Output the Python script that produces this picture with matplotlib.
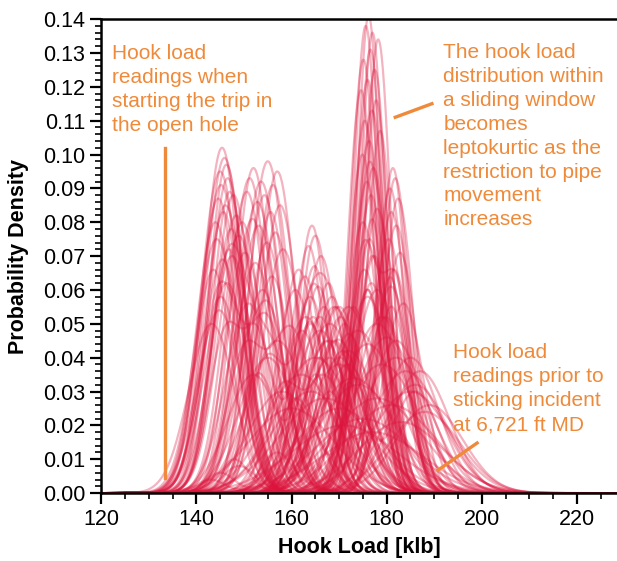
import numpy as np
import matplotlib
matplotlib.use('Agg')
import matplotlib.pyplot as plt
from matplotlib.ticker import MultipleLocator, FormatStrFormatter

plt.rcParams['font.family'] = ['Liberation Sans', 'DejaVu Sans']

# sliding-window hook load densities
# each entry: peak location [klb], peak density, spread [klb]
a_center = [145.4, 145.9, 146.3, 145.0, 146.6, 145.2, 147.0, 144.6, 146.1, 145.7, 144.0, 147.3, 144.3, 146.9, 145.5, 143.6,
            146.4, 145.1, 147.8, 148.4, 144.8, 148.9, 147.5, 143.2]
a_height = [0.102, 0.099, 0.097, 0.095, 0.093, 0.091, 0.089, 0.087, 0.085, 0.083, 0.080, 0.078, 0.075, 0.072, 0.069, 0.066,
            0.062, 0.058, 0.088, 0.082, 0.054, 0.076, 0.070, 0.050]
a_sigma = [3.8, 4.0, 3.7, 4.1, 3.8, 4.2, 3.6, 3.9, 4.3, 3.7, 4.0, 3.8, 4.4, 3.6, 4.1, 3.9,
           4.5, 4.2, 3.9, 4.1, 4.6, 4.3, 4.4, 4.8]

b_center = [152.0, 155.0, 157.0, 151.2, 153.6, 156.1, 150.6, 154.3, 152.8, 157.6, 155.6, 151.8, 153.1, 156.6, 154.8, 150.2,
            152.4, 155.9, 149.6, 158.2, 153.9, 151.0]
b_height = [0.096, 0.098, 0.095, 0.093, 0.092, 0.091, 0.089, 0.088, 0.086, 0.085, 0.083, 0.081, 0.079, 0.077, 0.074, 0.071,
            0.068, 0.064, 0.080, 0.072, 0.060, 0.056]
b_sigma = [3.8, 4.0, 3.8, 3.9, 4.1, 3.7, 4.0, 3.8, 4.2, 3.9, 3.7, 4.1, 4.3, 3.8, 4.0, 4.2,
           4.4, 4.1, 4.0, 4.3, 4.6, 4.8]

c_center = [164.3, 165.0, 163.6, 166.2, 164.8, 162.8, 165.6, 163.9, 166.8, 164.5, 162.2, 167.3, 160.8, 161.5]
c_height = [0.079, 0.076, 0.073, 0.070, 0.067, 0.064, 0.061, 0.058, 0.055, 0.052, 0.048, 0.045, 0.060, 0.066]
c_sigma = [3.2, 3.4, 3.3, 3.6, 3.5, 3.8, 3.7, 4.0, 3.9, 4.3, 4.5, 4.4, 4.2, 3.9]

g_center = [167.7, 168.5, 169.4, 170.3, 171.2, 172.0, 169.0, 170.8, 168.0, 171.8, 173.0, 166.5]
g_height = [0.062, 0.058, 0.055, 0.052, 0.050, 0.047, 0.045, 0.042, 0.040, 0.038, 0.055, 0.035]
g_sigma = [3.6, 3.9, 4.1, 4.3, 4.0, 4.5, 4.8, 5.0, 5.2, 5.4, 3.8, 5.6]

d_center = [176.2, 175.6, 177.0, 178.2, 176.6, 175.1, 177.5, 176.0, 174.6, 177.8, 176.9, 175.4, 178.6, 176.3, 174.9, 177.2,
            175.8, 176.7, 178.0, 175.0, 176.4, 177.4, 175.3, 176.8]
d_height = [0.141, 0.138, 0.136, 0.134, 0.131, 0.128, 0.125, 0.122, 0.119, 0.116, 0.113, 0.110, 0.107, 0.104, 0.100, 0.096,
            0.092, 0.088, 0.084, 0.080, 0.075, 0.070, 0.066, 0.062]
d_sigma = [2.5, 2.6, 2.5, 2.7, 2.6, 2.8, 2.7, 2.9, 2.8, 2.7, 3.0, 2.9, 2.8, 3.1, 3.0, 3.2,
           3.1, 3.3, 3.2, 3.4, 3.5, 3.6, 3.8, 3.9]

e_center = [181.3, 181.8, 180.7, 182.4, 181.0, 182.0, 180.4, 182.8, 181.5, 180.9, 183.5, 179.8]
e_height = [0.096, 0.093, 0.090, 0.087, 0.083, 0.079, 0.075, 0.071, 0.066, 0.061, 0.056, 0.052]
e_sigma = [2.9, 3.0, 3.1, 3.2, 3.3, 3.4, 3.5, 3.6, 3.8, 4.0, 4.2, 4.5]

f_center = [158, 162, 165, 168, 170, 172, 174, 176, 178, 180, 182, 184, 186, 160, 167, 173, 179, 185, 175, 181, 188, 171, 177, 183,
            152, 155, 157, 163, 166, 169, 176, 179, 182, 185, 187, 164, 170, 174, 178, 189]
f_height = [0.030, 0.035, 0.040, 0.045, 0.038, 0.042, 0.048, 0.044, 0.050, 0.046, 0.040, 0.036, 0.032, 0.025, 0.028, 0.034, 0.038,
            0.030, 0.022, 0.026, 0.024, 0.020, 0.018, 0.021,
            0.035, 0.040, 0.045, 0.052, 0.048, 0.055, 0.058, 0.052, 0.045, 0.040, 0.036, 0.030, 0.025, 0.032, 0.028, 0.026]
f_sigma = [7.0, 7.5, 8.0, 6.5, 7.0, 6.0, 6.5, 7.0, 6.5, 6.8, 7.2, 7.5, 6.8, 9.0, 9.5, 8.5, 8.0, 8.2, 10.0, 9.5, 7.5, 11.0, 10.5, 9.0,
           5.5, 6.0, 6.2, 5.5, 5.8, 5.2, 5.0, 5.4, 5.8, 6.0, 6.2, 8.0, 9.0, 8.5, 9.5, 7.0]

# two-mode windows
h_center1 = [146, 150, 153, 158, 161, 145, 149, 165, 168, 172,
             145, 147, 152, 155, 164, 166, 170, 175, 176, 148, 143, 157]
h_height1 = [0.045, 0.040, 0.035, 0.030, 0.028, 0.006, 0.008, 0.035, 0.030, 0.032,
             0.060, 0.070, 0.050, 0.040, 0.050, 0.040, 0.040, 0.070, 0.090, 0.010, 0.004, 0.012]
h_sigma1 = [3.5, 3.8, 3.6, 4.0, 4.2, 3.0, 3.5, 3.5, 3.8, 3.5,
            4.0, 4.0, 4.0, 4.0, 3.5, 4.0, 5.0, 3.0, 2.8, 3.0, 3.0, 3.5]
h_center2 = [155, 160, 166, 170, 176, 168, 172, 177, 181, 186,
             155, 156, 164, 165, 176, 177, 181, 182, 182, 170, 166, 178]
h_height2 = [0.055, 0.048, 0.052, 0.045, 0.060, 0.050, 0.055, 0.070, 0.055, 0.030,
             0.050, 0.040, 0.050, 0.060, 0.060, 0.080, 0.060, 0.060, 0.050, 0.055, 0.065, 0.060]
h_sigma2 = [4.0, 4.5, 4.2, 5.0, 3.5, 6.0, 5.5, 3.2, 3.5, 5.0,
            4.0, 4.0, 3.5, 3.5, 3.0, 2.8, 3.0, 3.0, 3.0, 5.0, 5.5, 5.0]

ORANGE = '#EE8A3A'
CRIMSON = '#DC143C'


def bump(x, c, h, s):
    return h * np.exp(-0.5 * ((x - c) / s) ** 2)


def main():
    x = np.linspace(120, 230, 800)

    fig = plt.figure(figsize=(6.17, 5.61), dpi=100)
    ax = fig.add_axes([0.164, 0.121, 0.836, 0.845])

    groups = [(a_center, a_height, a_sigma), (b_center, b_height, b_sigma),
              (c_center, c_height, c_sigma), (g_center, g_height, g_sigma),
              (d_center, d_height, d_sigma), (e_center, e_height, e_sigma),
              (f_center, f_height, f_sigma)]
    for cs, hs, ss in groups:
        for c, h, s in zip(cs, hs, ss):
            ax.plot(x, bump(x, c, h, s), color=CRIMSON, alpha=0.32, lw=1.6)
    for i in range(len(h_center1)):
        y = bump(x, h_center1[i], h_height1[i], h_sigma1[i]) + \
            bump(x, h_center2[i], h_height2[i], h_sigma2[i])
        ax.plot(x, y, color=CRIMSON, alpha=0.32, lw=1.6)

    # annotations
    ax.plot([133.5, 133.5], [0.0045, 0.1018], color=ORANGE, lw=2.4)
    ax.plot([181.8, 189.5], [0.111, 0.115], color=ORANGE, lw=2.4)
    ax.plot([190.8, 199.0], [0.0068, 0.0148], color=ORANGE, lw=2.4)

    tkw = dict(color=ORANGE, fontsize=15, va='top', ha='left', linespacing=1.33)
    ax.text(122.3, 0.1327, 'Hook load\nreadings when\nstarting the trip in\nthe open hole', **tkw)
    ax.text(191.9, 0.1330, 'The hook load\ndistribution within\na sliding window\nbecomes\n'
            'leptokurtic as the\nrestriction to pipe\nmovement\nincreases', **tkw)
    ax.text(194.0, 0.0442, 'Hook load\nreadings prior to\nsticking incident\nat 6,721 ft MD', **tkw)

    ax.set_xlim(120, 228.4)
    ax.set_ylim(0, 0.14)
    ax.xaxis.set_major_locator(MultipleLocator(20))
    ax.xaxis.set_minor_locator(MultipleLocator(5))
    ax.yaxis.set_major_locator(MultipleLocator(0.01))
    ax.yaxis.set_minor_locator(MultipleLocator(0.002))
    ax.yaxis.set_major_formatter(FormatStrFormatter('%.2f'))
    ax.tick_params(which='major', direction='out', length=8, width=1.6, labelsize=15.5)
    ax.tick_params(which='minor', direction='out', length=4.5, width=1.2)
    ax.spines['right'].set_visible(False)
    for sp in ['left', 'bottom', 'top']:
        ax.spines[sp].set_linewidth(1.8)

    ax.set_xlabel('Hook Load [klb]', fontsize=15.5, fontweight='bold', labelpad=5)
    ax.set_ylabel('Probability Density', fontsize=15.5, fontweight='bold', labelpad=10)

    fig.savefig('out.png', dpi=100)
    plt.close()


if __name__ == "__main__":
    main()
